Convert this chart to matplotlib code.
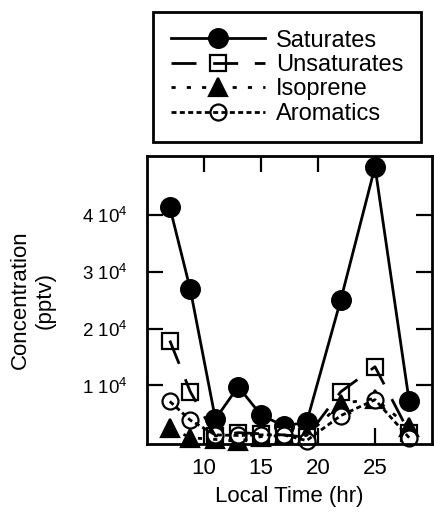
import matplotlib as mpl
mpl.use('Agg')
import matplotlib.pyplot as plt
from matplotlib.ticker import FixedLocator, FuncFormatter
from matplotlib.legend_handler import HandlerTuple

plt.rcParams['font.family'] = ['Liberation Sans', 'DejaVu Sans']
plt.rcParams['mathtext.fontset'] = 'custom'
plt.rcParams['mathtext.rm'] = 'Liberation Sans'
plt.rcParams['mathtext.it'] = 'Liberation Sans:italic'
plt.rcParams['lines.scale_dashes'] = False

# local time (hr)
hours = [7, 8.8, 11, 13, 15, 17, 19, 22, 25, 28]

# concentrations (pptv)
saturates = [41400, 26900, 4100, 9800, 4800, 2900, 3500, 25100, 48500, 7200]
unsaturates = [17900, 8900, 1100, 1700, 1500, 1300, 900, 8900, 13300, 1700]
isoprene = [2600, 800, 500, 200, 1000, 1200, 1200, 6800, 7700, 2700]
aromatics = [7200, 3900, 1300, 1200, 1300, 1300, 300, 4700, 7500, 800]

labels = ['Saturates', 'Unsaturates', 'Isoprene', 'Aromatics']
x_ticks = [10, 15, 20, 25]
y_ticks = [10000, 20000, 30000, 40000]

fig = plt.figure(figsize=(4.34, 5.12), dpi=100)
ax = fig.add_axes([0.3387, 0.1328, 0.6567, 0.5625])

series = [
    (saturates, dict(marker='o', markersize=13.5, markerfacecolor='black'), '-'),
    (unsaturates, dict(marker='s', markersize=11.5, markerfacecolor='white'), (0, (18, 12))),
    (isoprene, dict(marker='^', markersize=12.5, markerfacecolor='black'), (0, (3, 8))),
    (aromatics, dict(marker='o', markersize=11.5, markerfacecolor='white'), (0, (3.6, 2.4))),
]

handles = []
for values, mstyle, ls in series:
    # markers underneath, line drawn over them (as in the original)
    m, = ax.plot(hours, values, linestyle='none', markeredgecolor='black',
                 markeredgewidth=1.6, clip_on=False, zorder=2, **mstyle)
    l, = ax.plot(hours, values, color='black', linestyle=ls, linewidth=2.0,
                 clip_on=False, zorder=3)
    handles.append((m, l))

ax.set_xlim(5, 30)
ax.set_ylim(-300, 50400)

ax.xaxis.set_major_locator(FixedLocator(x_ticks))
ax.yaxis.set_major_locator(FixedLocator(y_ticks))
ax.yaxis.set_major_formatter(FuncFormatter(lambda v, p: '%d $10^{4}$' % round(v / 1e4)))

ax.tick_params(direction='in', length=11.5, width=1.6, top=True, right=True)
ax.tick_params(axis='x', labelsize=16, pad=10)
ax.tick_params(axis='y', labelsize=13.5, pad=14)
for s in ax.spines.values():
    s.set_linewidth(2)

ax.set_xlabel('Local Time (hr)', fontsize=16, labelpad=5)
ax.set_ylabel('Concentration\n(pptv)', fontsize=16, labelpad=19, linespacing=1.25)

leg = fig.legend(handles, labels, handler_map={tuple: HandlerTuple(ndivide=1, pad=0)},
                 loc='upper left', bbox_to_anchor=(0.3525, 0.9766),
                 fontsize=17, handlelength=4.0, handletextpad=0.45,
                 labelspacing=0.1, borderpad=0.75, borderaxespad=0,
                 fancybox=False, framealpha=1, edgecolor='black')
leg.get_frame().set_linewidth(2)

fig.savefig('out.png', dpi=100)
